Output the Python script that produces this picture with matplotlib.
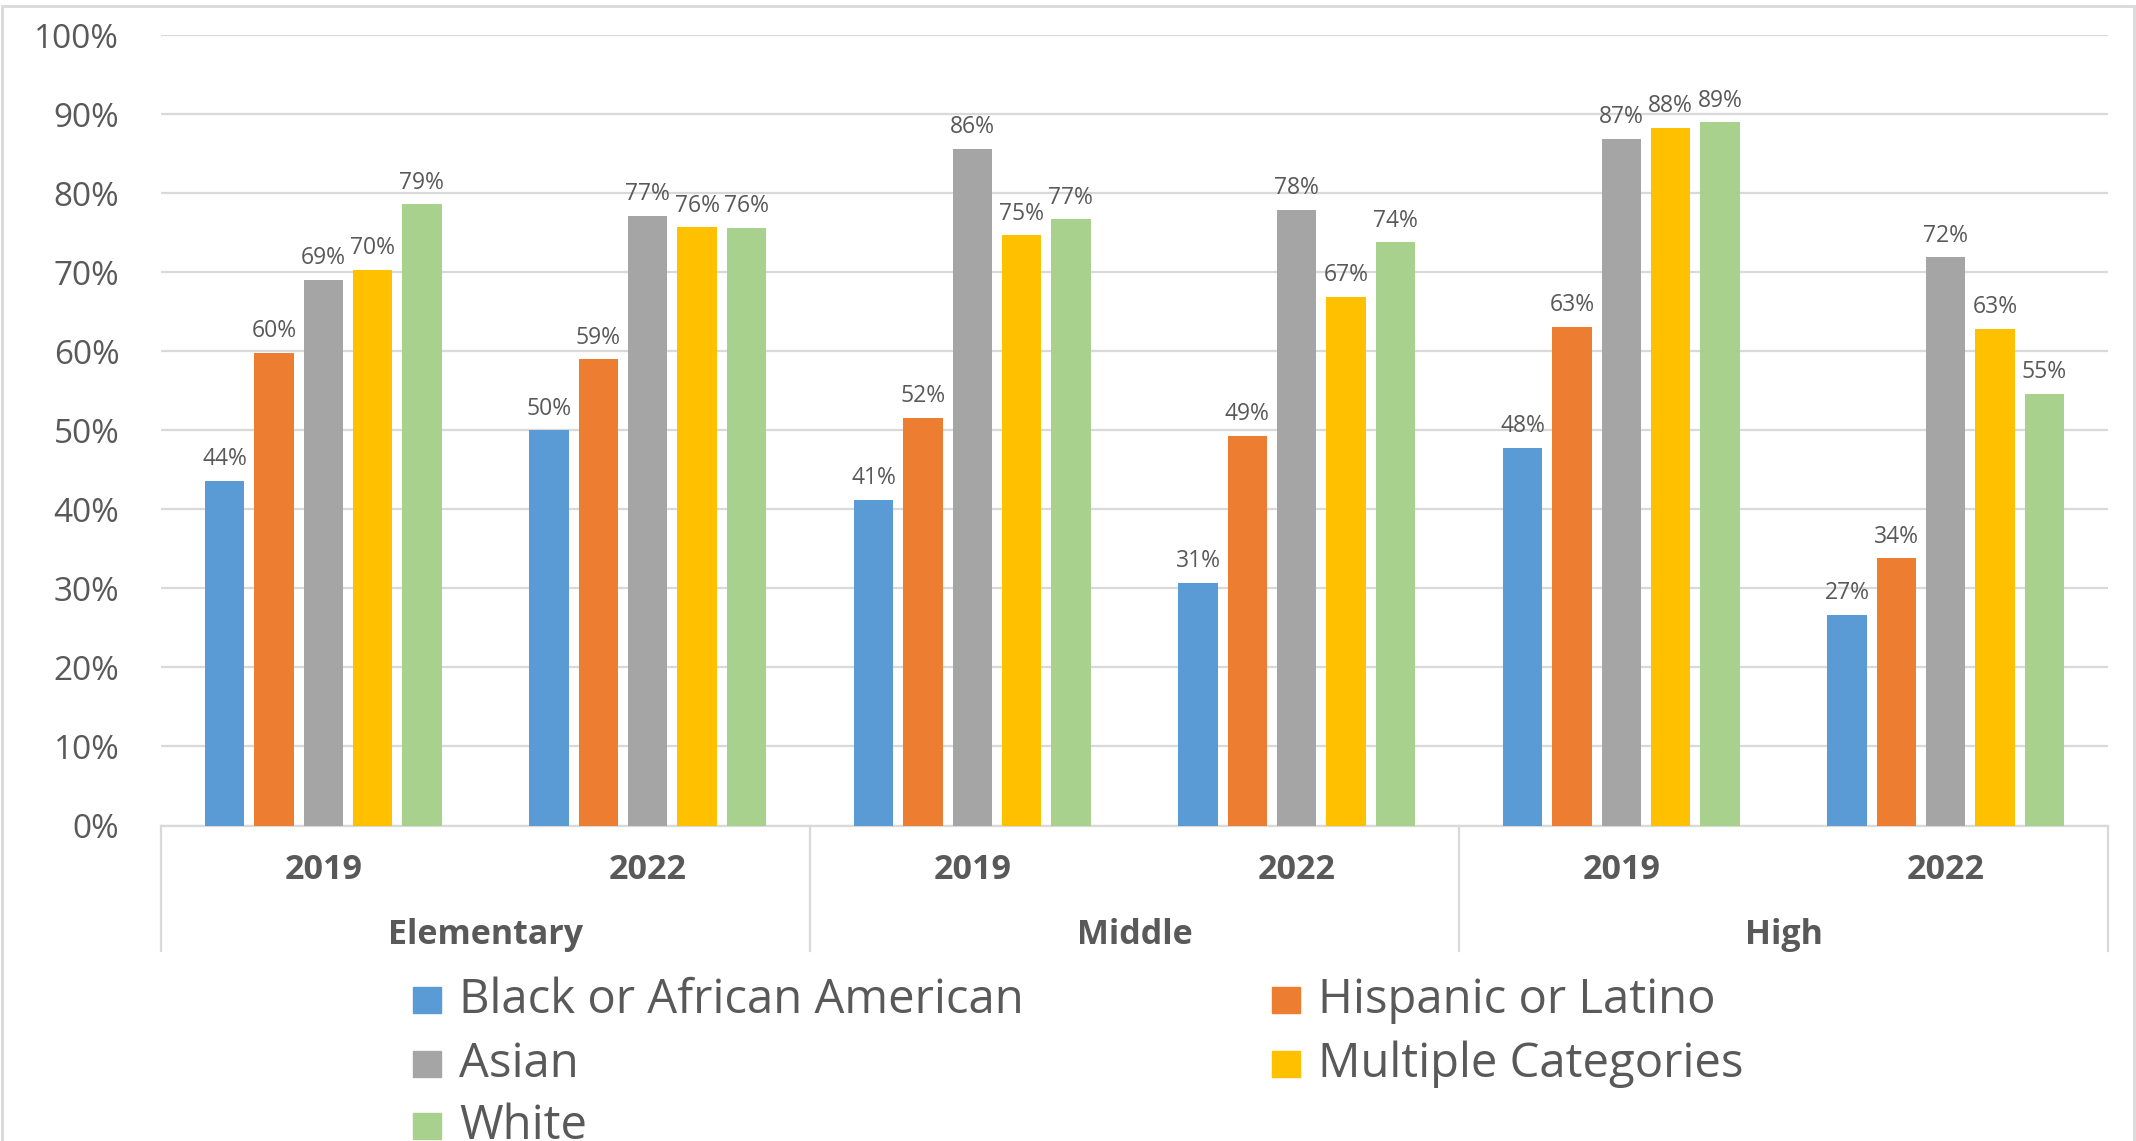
import matplotlib
matplotlib.use("Agg")
import matplotlib.pyplot as plt
from matplotlib.patches import Rectangle
import numpy as np

plt.rcParams['font.family'] = ['Open Sans', 'DejaVu Sans']

levels = ["Elementary", "Middle", "High"]
years = ["2019", "2022"]
series = ["Black or African American", "Hispanic or Latino", "Asian",
          "Multiple Categories", "White"]
colors = ["#5B9BD5", "#ED7D31", "#A5A5A5", "#FFC000", "#A9D18E"]

black = [43.6, 50.0, 41.2, 30.7, 47.8, 26.7]
hispanic = [59.8, 59.0, 51.6, 49.3, 63.1, 33.8]
asian = [69.1, 77.2, 85.6, 77.9, 86.9, 71.9]
multiple = [70.3, 75.7, 74.7, 66.9, 88.3, 62.9]
white = [78.6, 75.6, 76.7, 73.8, 89.0, 54.6]
values = [black, hispanic, asian, multiple, white]

TXT = "#595959"
W, H = 2136, 1141
fig = plt.figure(figsize=(W / 100, H / 100), dpi=100)
ax = fig.add_axes([161 / W, 1 - 825.5 / H, (2108 - 161) / W, (825.5 - 35.4) / H])

n_groups = len(levels) * len(years)
x = np.arange(n_groups)
step = 0.152
bw = 0.1216
for i, (name, vals, c) in enumerate(zip(series, values, colors)):
    xs = x + (i - 2) * step
    ax.bar(xs, vals, width=bw, color=c, zorder=3)
    for xi, v in zip(xs, vals):
        ax.annotate(f"{round(v):d}%", (xi, v), xytext=(0, 7), textcoords="offset points",
                    ha="center", va="bottom", fontsize=16.5, color=TXT)

ax.set_xlim(-0.5, n_groups - 0.5)
ax.set_ylim(0, 100)
ax.set_yticks(np.arange(0, 101, 10))
ax.set_yticklabels([f"{t}%" for t in range(0, 101, 10)], fontsize=24, color=TXT)
ax.tick_params(axis="y", length=0, pad=30)
ax.tick_params(axis="x", length=0)
ax.set_xticks([])
ax.grid(axis="y", color="#D9D9D9", linewidth=1.6, zorder=0)
for s in ["top", "right", "left"]:
    ax.spines[s].set_visible(False)
ax.spines["bottom"].set_color("#D9D9D9")
ax.spines["bottom"].set_linewidth(1.6)

trans = ax.get_xaxis_transform()
for k in range(len(levels) + 1):
    xp = -0.5 + 2 * k
    ax.plot([xp, xp], [0, -0.159], transform=trans, color="#D9D9D9", lw=1.6, clip_on=False)
for g in range(n_groups):
    ax.text(x[g], -0.056, years[g % 2], transform=trans, ha="center", va="center",
            fontsize=24.5, fontweight="bold", color=TXT)
for k, lv in enumerate(levels):
    ax.text(0.5 + 2 * k, -0.139, lv, transform=trans, ha="center", va="center",
            fontsize=24.5, fontweight="bold", color=TXT)

# legend (manual, two columns)
order = [0, 2, 4, 1, 3]
col_x = [413, 1272]
row_y = [1000, 1064, 1126]
for j, idx in enumerate(order):
    col = 0 if j < 3 else 1
    row = j if j < 3 else j - 3
    px, py = col_x[col], row_y[row]
    fig.patches.append(Rectangle((px / W, 1 - (py + 13) / H), 28 / W, 26 / H,
                                 transform=fig.transFigure, color=colors[idx]))
    fig.text((px + 46) / W, 1 - py / H, series[idx], ha="left", va="center",
             fontsize=34, color=TXT)

fig.patches.append(Rectangle((0.001, -0.01), 0.998, 1.005, transform=fig.transFigure,
                             fill=False, edgecolor="#D9D9D9", lw=2))

fig.savefig("out.png", dpi=100, facecolor="white")
